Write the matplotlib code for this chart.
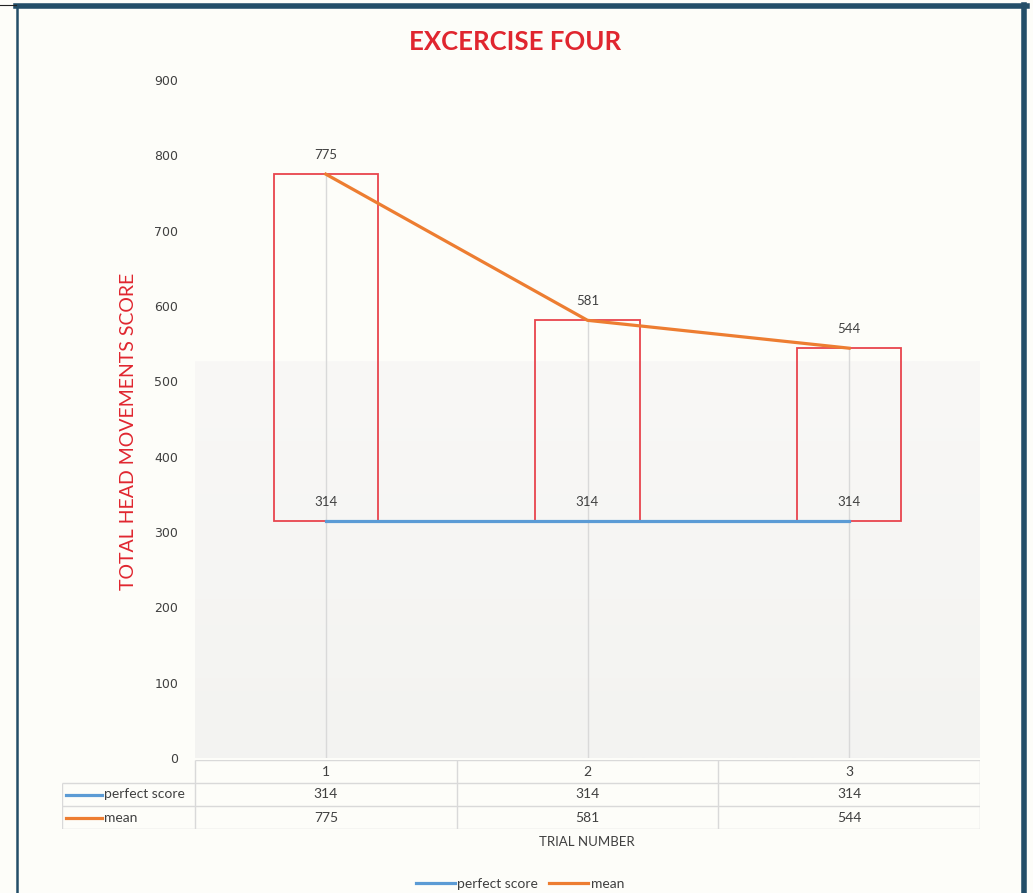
import matplotlib.pyplot as plt
import numpy as np
from matplotlib.lines import Line2D
from matplotlib.colors import LinearSegmentedColormap

# chart data
trials = [1, 2, 3]
trial_labels = ['1', '2', '3']
series_names = ['perfect score', 'mean']
perfect_score = [314, 314, 314]
mean_score = [775, 581, 544]

W, H = 1033, 893
RED = '#e0262f'
BLUE = '#5b9bd5'
ORANGE = '#ed7d31'
TXT = '#404040'
GRID = '#d9d9d9'


def fx(px):
    return px / W


def fy(py):
    return 1 - py / H


fig = plt.figure(figsize=(W / 100, H / 100), dpi=100, facecolor='#fdfdf9')

# main plot area
ax = fig.add_axes([fx(195), fy(758), fx(980) - fx(195), fy(80) - fy(758)])
ax.set_facecolor('none')

# soft grey gradient in lower part of the plot area
cmap = LinearSegmentedColormap.from_list('bg', ['#f3f3f1', '#f9f8f6'])
grad = np.linspace(0, 1, 256).reshape(-1, 1)
ax.imshow(grad, extent=(0.5, 3.5, 0, 526), origin='lower', aspect='auto',
          cmap=cmap, zorder=0)

# drop lines
ax.vlines(trials, 0, mean_score, color=GRID, lw=1, zorder=1)

# up bars (outlined boxes between the two series)
ax.bar(trials, np.subtract(mean_score, perfect_score), bottom=perfect_score,
       width=0.4, fill=False, edgecolor='#e8444d', lw=1.3, zorder=2)

l1, = ax.plot(trials, perfect_score, color=BLUE, lw=2.3, zorder=3, label=series_names[0])
l2, = ax.plot(trials, mean_score, color=ORANGE, lw=2.3, zorder=3, label=series_names[1])

for vals in (perfect_score, mean_score):
    for t, v in zip(trials, vals):
        ax.annotate(str(v), (t, v), xytext=(0, 14), textcoords='offset points',
                    ha='center', va='center', fontsize=9.5, color=TXT, family='Lato')

ax.set_xlim(0.5, 3.5)
ax.set_ylim(0, 900)
ax.set_xticks([])
ax.set_yticks(range(0, 901, 100))
ax.tick_params(axis='y', length=0, pad=12, labelsize=9, labelcolor=TXT)
for s in ax.spines.values():
    s.set_visible(False)

# data table under the plot
x0 = 0.5 - (195 - 62) / 261.67
tax = fig.add_axes([fx(62), fy(829), fx(980) - fx(62), fy(760) - fy(829)])
tax.set_xlim(x0, 3.5)
tax.set_ylim(3, 0)
tax.axis('off')
tax.hlines(0, 0.5, 3.5, color=GRID, lw=1)
tax.hlines([1, 2, 3], x0, 3.5, color=GRID, lw=1)
tax.vlines([0.5, 1.5, 2.5, 3.5], 0, 3, color=GRID, lw=1)
tax.vlines(x0, 1, 3, color=GRID, lw=1)
for t, lab in zip(trials, trial_labels):
    tax.text(t, 0.5, lab, ha='center', va='center', fontsize=10, color=TXT, family='Lato')
for row, (vals, name, col) in enumerate(zip((perfect_score, mean_score), series_names, (BLUE, ORANGE)), start=1):
    for t, v in zip(trials, vals):
        tax.text(t, row + 0.5, str(v), ha='center', va='center', fontsize=10, color=TXT, family='Lato')
    kx0 = x0 + 4 / 261.67
    kx1 = x0 + 40 / 261.67
    tax.plot([kx0, kx1], [row + 0.5, row + 0.5], color=col, lw=2.3)
    tax.text(kx1 + 2 / 261.67, row + 0.5, name, ha='left', va='center',
             fontsize=10, color=TXT, family='Lato')

fig.text(fx(587), fy(842), 'TRIAL NUMBER', ha='center', va='center',
         fontsize=9.5, color=TXT, family='Lato')

# titles
fig.text(fx(515), fy(42), 'EXCERCISE FOUR', ha='center', va='center',
         fontsize=18.5, fontweight='bold', color=RED, family='Lato')
fig.text(fx(128), fy(431), 'TOTAL HEAD MOVEMENTS SCORE', ha='center', va='center',
         rotation=90, fontsize=14, color=RED, family='Lato')

fig.legend(handles=[l1, l2], loc='center', bbox_to_anchor=(fx(520), fy(884)),
           ncol=2, frameon=False, prop={'family': 'Lato', 'size': 10},
           handlelength=2.8, columnspacing=0.8, handletextpad=0.2,
           labelcolor=TXT)

# outer frame
FRAME = '#234e68'
fig.add_artist(Line2D([fx(16), fx(1027)], [fy(5.5), fy(5.5)], color=FRAME, lw=4))
fig.add_artist(Line2D([fx(17), fx(17)], [fy(5), fy(893)], color=FRAME, lw=1.8))
fig.add_artist(Line2D([fx(1024), fx(1024)], [fy(5), fy(893)], color=FRAME, lw=4))
fig.add_artist(Line2D([fx(0), fx(16)], [fy(5), fy(5)], color='#222222', lw=0.8))

fig.savefig('out.png', dpi=100, facecolor=fig.get_facecolor())
